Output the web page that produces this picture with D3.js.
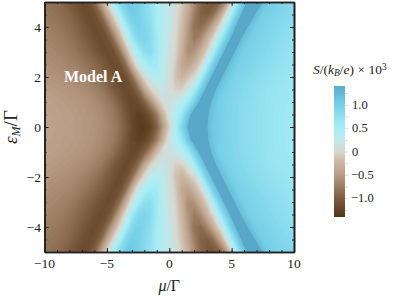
<!DOCTYPE html>
<html>
<head>
<meta charset="utf-8">
<script src="https://cdn.jsdelivr.net/npm/d3@7"></script>
<style>
body { margin: 0; background: #fff; }
text { font-family: "Liberation Serif", serif; fill: #222; }
</style>
</head>
<body>
<div id="container"></div>
<script>
///declare size
let w = 399,
h = 296;

///grid axes
const muValues = d3.range(41).map(i => -10 + i * 0.5);
const epsValues = [5, 4.5, 4, 3.5, 3, 2.5, 2, 1.5, 1, 0.5, 0, -0.5, -1, -1.5, -2, -2.5, -3, -3.5, -4, -4.5, -5];

///S/(kB/e) x 10^5, one row per epsValues entry
const seebeck = [
[-82,-84,-88,-94,-103,-112,-117,-113,-90,-45,0,45,85,105,108,100,85,68,50,35,25,10,-8,-30,-62,-88,-104,-108,-98,-62,0,60,108,143,140,122,104,97,93,89,85],
[-78,-80,-83,-87,-93,-102,-112,-118,-113,-90,-42,0,45,85,104,100,88,72,52,36,22,6,-14,-40,-72,-95,-100,-86,-48,0,55,104,140,136,118,101,98,93,89,85,81],
[-73,-75,-78,-82,-87,-94,-103,-112,-118,-113,-88,-42,0,45,85,100,92,76,54,35,20,2,-20,-50,-82,-88,-68,-36,0,50,101,136,132,115,101,97,92,88,84,80,76],
[-68,-70,-73,-76,-81,-87,-94,-103,-112,-118,-113,-88,-40,8,55,85,95,82,58,34,18,0,-24,-55,-75,-60,-30,0,48,97,132,131,113,100,96,91,87,83,79,75,72],
[-64,-66,-68,-71,-75,-80,-87,-94,-103,-112,-118,-113,-86,-35,15,50,75,80,60,34,15,-4,-30,-62,-54,-30,-4,44,97,132,131,113,100,96,91,87,83,79,75,71,68],
[-59,-61,-63,-65,-68,-72,-77,-83,-90,-98,-108,-118,-113,-86,-30,18,42,58,58,32,10,-8,-38,-44,-27,-5,44,97,132,131,113,100,95,90,86,82,78,75,71,68,65],
[-54,-56,-58,-60,-62,-65,-69,-74,-81,-90,-100,-110,-119,-113,-86,-35,5,28,40,30,10,-15,-28,-15,0,44,97,132,131,113,100,93,88,84,80,76,73,70,67,64,62],
[-49,-51,-52,-54,-56,-58,-61,-65,-70,-77,-87,-100,-112,-120,-113,-88,-42,-6,12,18,8,-6,-6,18,50,97,132,131,113,100,93,88,84,80,76,72,69,66,64,61,60],
[-46,-47,-48,-50,-51,-53,-55,-58,-62,-67,-74,-84,-98,-112,-122,-116,-96,-62,-20,6,14,22,36,58,97,132,136,118,100,96,91,86,82,78,74,71,68,65,62,60,58],
[-44,-45,-46,-48,-49,-51,-53,-55,-58,-62,-68,-76,-88,-105,-122,-130,-124,-107,-76,-28,12,40,66,108,143,145,127,110,101,95,90,85,81,77,73,70,67,64,61,59,57],
[-43,-44,-45,-47,-48,-50,-52,-54,-57,-61,-66,-73,-84,-100,-118,-132,-135,-124,-96,-50,-5,45,90,125,145,143,125,108,101,95,90,85,81,77,73,70,67,64,61,59,57],
[-44,-45,-46,-48,-49,-51,-53,-55,-58,-62,-68,-76,-88,-105,-122,-130,-124,-107,-76,-28,12,40,66,108,143,145,127,110,101,95,90,85,81,77,73,70,67,64,61,59,57],
[-46,-47,-48,-50,-51,-53,-55,-58,-62,-67,-74,-84,-98,-112,-122,-116,-96,-62,-20,6,14,22,36,58,97,132,136,118,100,96,91,86,82,78,74,71,68,65,62,60,58],
[-49,-51,-52,-54,-56,-58,-61,-65,-70,-77,-87,-100,-112,-120,-113,-88,-42,-6,12,18,8,-6,-6,18,50,97,132,131,113,100,93,88,84,80,76,72,69,66,64,61,60],
[-54,-56,-58,-60,-62,-65,-69,-74,-81,-90,-100,-110,-119,-113,-86,-35,5,28,40,30,10,-15,-28,-15,0,44,97,132,131,113,100,93,88,84,80,76,73,70,67,64,62],
[-59,-61,-63,-65,-68,-72,-77,-83,-90,-98,-108,-118,-113,-86,-30,18,42,58,58,32,10,-8,-38,-44,-27,-5,44,97,132,131,113,100,95,90,86,82,78,75,71,68,65],
[-64,-66,-68,-71,-75,-80,-87,-94,-103,-112,-118,-113,-86,-35,15,50,75,80,60,34,15,-4,-30,-62,-54,-30,-4,44,97,132,131,113,100,96,91,87,83,79,75,71,68],
[-68,-70,-73,-76,-81,-87,-94,-103,-112,-118,-113,-88,-40,8,55,85,95,82,58,34,18,0,-24,-55,-75,-60,-30,0,48,97,132,131,113,100,96,91,87,83,79,75,72],
[-73,-75,-78,-82,-87,-94,-103,-112,-118,-113,-88,-42,0,45,85,100,92,76,54,35,20,2,-20,-50,-82,-88,-68,-36,0,50,101,136,132,115,101,97,92,88,84,80,76],
[-78,-80,-83,-87,-93,-102,-112,-118,-113,-90,-42,0,45,85,104,100,88,72,52,36,22,6,-14,-40,-72,-95,-100,-86,-48,0,55,104,140,136,118,101,98,93,89,85,81],
[-82,-84,-88,-94,-103,-112,-117,-113,-90,-45,0,45,85,105,108,100,85,68,50,35,25,10,-8,-30,-62,-88,-104,-108,-98,-62,0,60,108,143,140,122,104,97,93,89,85]
];

///colors
const colorValues = [-1.4, -1, -0.5, -0.15, 0, 0.25, 0.5, 1, 1.4];
const colorStops = ["#553518", "#7d5d3f", "#b89c84", "#d0c0b0", "#d8d8d0", "#c0e8ea", "#a8eef6", "#78d0e8", "#5aaccc"];
const bandStart = 1.22;
const bandColor = "#5aa8c8";

///tick labels
const xMajor = [-10, -5, 0, 5, 10];
const xMinor = d3.range(-10, 10.5, 1);
const yMajor = [-4, -2, 0, 2, 4];
const yMinor = d3.range(-5, 5.5, 0.5);
const barMajor = [-1, -0.5, 0, 0.5, 1];
const barMinor = d3.range(-1.25, 1.5, 0.25);
const minus = s => String(s).replace("-", "\u2212");

let svgs = d3.select("#container").
append("svg").
attr("width", w).
attr("height", h).
style("display", "block");

let xScale = d3.scaleLinear().domain([-10, 10]).range([44.5, 294]);
let yScale = d3.scaleLinear().domain([-5, 5]).range([252, 2]);

let barColor = d3.scaleLinear().domain(colorValues).range(colorStops);
let fieldColor = v => v >= bandStart ? bandColor : barColor(v);

///field, filled contours of the grid
let step = 0.025;
let levels = d3.range(-1.4, 1.4, step);
let grid = d3.merge(seebeck).map(v => v / 100);
let contours = d3.contours().
size([muValues.length, epsValues.length]).
thresholds(levels)(grid);

// contour coordinates have the samples at cell centres
let gx = d3.scaleLinear().domain([0.5, muValues.length - 0.5]).range([xScale(-10), xScale(10)]);
let gy = d3.scaleLinear().domain([0.5, epsValues.length - 0.5]).range([yScale(5), yScale(-5)]);
let path = d3.geoPath(d3.geoTransform({
  point(x, y) {this.stream.point(gx(x), gy(y));}
}));

let defs = svgs.append("defs");
defs.append("clipPath").attr("id", "frame").append("rect").
attr("x", xScale(-10)).attr("y", yScale(5)).
attr("width", xScale(10) - xScale(-10)).attr("height", yScale(-5) - yScale(5));

svgs.append("g").
attr("clip-path", "url(#frame)").
selectAll("path").
data(contours).
enter().
append("path").
attr("d", path).
attr("fill", d => fieldColor(d.value + step / 2));

///axes
function ticks(axis, values, size) {
  return axis.tickValues(values).tickSize(size).tickSizeOuter(0).tickFormat("");
}
function frameAxis(g) {
  g.selectAll("path").attr("stroke", "#222").attr("stroke-width", 1.6);
  g.selectAll("line").attr("stroke", "#222").attr("stroke-width", 1);
}
let bottom = yScale(-5), top_ = yScale(5), left = xScale(-10), right = xScale(10);

svgs.append("g").attr("transform", "translate(0," + bottom + ")").
call(ticks(d3.axisBottom(xScale), xMinor, -2)).call(frameAxis);
svgs.append("g").attr("transform", "translate(0," + bottom + ")").
call(ticks(d3.axisBottom(xScale), xMajor, -4)).call(frameAxis);
svgs.append("g").attr("transform", "translate(0," + top_ + ")").
call(ticks(d3.axisTop(xScale), xMinor, -2)).call(frameAxis);
svgs.append("g").attr("transform", "translate(0," + top_ + ")").
call(ticks(d3.axisTop(xScale), xMajor, -4)).call(frameAxis);
svgs.append("g").attr("transform", "translate(" + left + ",0)").
call(ticks(d3.axisLeft(yScale), yMinor, -2)).call(frameAxis);
svgs.append("g").attr("transform", "translate(" + left + ",0)").
call(ticks(d3.axisLeft(yScale), yMajor, -4)).call(frameAxis);
svgs.append("g").attr("transform", "translate(" + right + ",0)").
call(ticks(d3.axisRight(yScale), yMinor, -2)).call(frameAxis);
svgs.append("g").attr("transform", "translate(" + right + ",0)").
call(ticks(d3.axisRight(yScale), yMajor, -4)).call(frameAxis);

///tick labels
svgs.selectAll(".xlab").data(xMajor).enter().append("text").
attr("class", "xlab").
attr("x", d => xScale(d)).attr("y", 267.5).
attr("text-anchor", "middle").attr("font-size", 13.5).
text(minus);
svgs.selectAll(".ylab").data(yMajor).enter().append("text").
attr("class", "ylab").
attr("x", 41).attr("y", d => yScale(d) + 4.5).
attr("text-anchor", "end").attr("font-size", 13.5).
text(minus);

///axis titles
let xt = svgs.append("text").attr("x", xScale(0)).attr("y", 291).
attr("text-anchor", "middle").attr("font-size", 16);
xt.append("tspan").attr("font-style", "italic").text("\u03bc");
xt.append("tspan").text("/\u0393");

let yt = svgs.append("text").
attr("transform", "translate(17," + yScale(0) + ") rotate(-90)").
attr("text-anchor", "middle").attr("font-size", 19);
yt.append("tspan").attr("font-style", "italic").text("\u03b5");
yt.append("tspan").attr("font-style", "italic").attr("font-size", 12).attr("dy", 3).text("M");
yt.append("tspan").attr("dy", -3).text("/\u0393");

svgs.append("text").attr("x", 64).attr("y", 82).
attr("font-size", 16).attr("font-weight", "bold").
style("fill", "#fff").text("Model A");

///color bar
let barScale = d3.scaleLinear().domain([-1.4, 1.4]).range([217, 86]);
let grad = defs.append("linearGradient").attr("id", "bar").
attr("x1", 0).attr("x2", 0).attr("y1", 1).attr("y2", 0);
grad.selectAll("stop").data(colorValues).enter().append("stop").
attr("offset", d => (d + 1.4) / 2.8).
attr("stop-color", d => barColor(d));
svgs.append("rect").
attr("x", 334).attr("y", barScale(1.4)).
attr("width", 11).attr("height", barScale(-1.4) - barScale(1.4)).
attr("fill", "url(#bar)");

svgs.append("g").attr("transform", "translate(345,0)").
call(d3.axisRight(barScale).tickValues(barMinor).tickSize(3).tickSizeOuter(0).tickFormat("")).
call(g => {
  g.select("path").remove();
  g.selectAll("line").attr("stroke", "#ddd");
});

svgs.selectAll(".barlab").data(barMajor).enter().append("text").
attr("class", "barlab").
attr("x", d => d < 0 ? 351 : 352).attr("y", d => barScale(d) + 4).
attr("font-size", 12.5).
text(d => d === 0 ? "0" : minus(d3.format(".1f")(d)));

let bt = svgs.append("text").attr("x", 313).attr("y", 74).attr("font-size", 13.5);
bt.append("tspan").attr("font-style", "italic").text("S");
bt.append("tspan").text("/(");
bt.append("tspan").attr("font-style", "italic").text("k");
bt.append("tspan").attr("font-style", "italic").attr("font-size", 9.5).attr("dy", 2).text("B");
bt.append("tspan").attr("dy", -2).text("/");
bt.append("tspan").attr("font-style", "italic").text("e");
bt.append("tspan").text(") \u00d7 10");
bt.append("tspan").attr("font-size", 9.5).attr("dy", -4).text("3");
</script>
</body>
</html>
